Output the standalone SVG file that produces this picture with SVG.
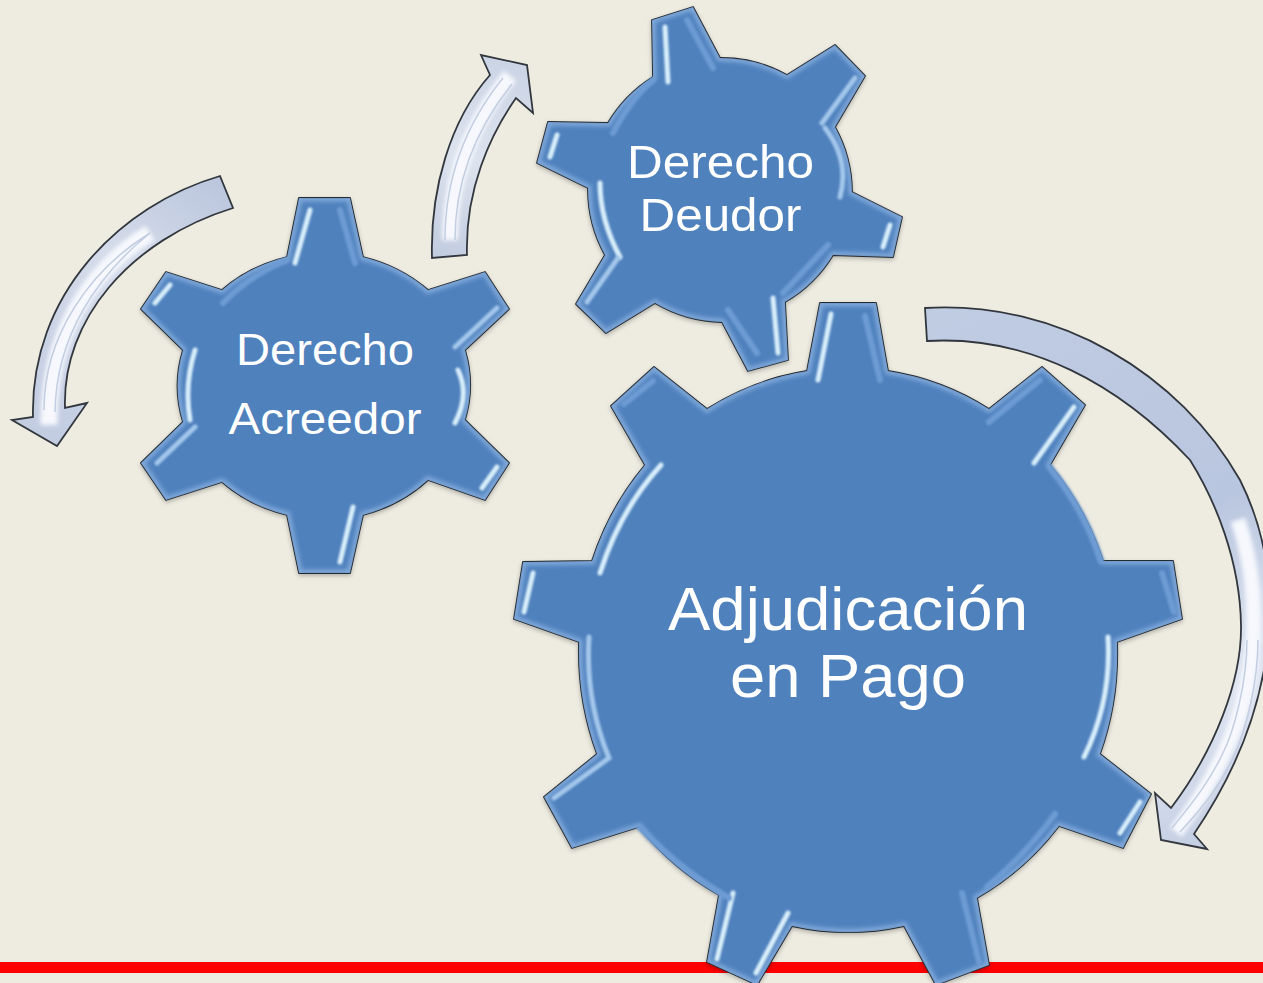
<svg xmlns="http://www.w3.org/2000/svg" width="1263" height="983" viewBox="0 0 1263 983">
<style>
.gear{fill:#4f81bd;stroke:#222a32;stroke-width:1.8;stroke-linejoin:round}
.bevel{fill:none;stroke:#7fa8da;stroke-width:7;filter:url(#soft)}
.hl{fill:none;stroke-linecap:round;filter:url(#soft1)}
.b{stroke:#d8effb;stroke-width:5}
.m{stroke:#a4c8ec;stroke-width:5}
.d{stroke:#6d9bd3;stroke-width:6}
.t{font-family:"Liberation Sans",Arial,sans-serif;fill:#fff;text-anchor:middle}
.arrow{stroke:#32373e;stroke-width:1.8;stroke-linejoin:miter}
.glow{fill:none;stroke:#f6f8fd;stroke-linecap:butt;filter:url(#soft)}
.line{fill:none;stroke:#c3cee2;stroke-width:1.5}
</style>
<defs>
<filter id="soft" x="-20%" y="-20%" width="140%" height="140%"><feGaussianBlur stdDeviation="2"/></filter>
<filter id="soft1" x="-50%" y="-50%" width="200%" height="200%"><feGaussianBlur stdDeviation="0.8"/></filter>
<filter id="shadow" x="-10%" y="-10%" width="120%" height="120%"><feDropShadow dx="0" dy="2" stdDeviation="2" flood-color="#000" flood-opacity="0.25"/></filter>
<linearGradient id="a1" gradientUnits="userSpaceOnUse" x1="225" y1="190" x2="50" y2="430"><stop offset="0" stop-color="#bcc7de"/><stop offset="0.4" stop-color="#d5dcea"/><stop offset="1" stop-color="#c3cde2"/></linearGradient>
<linearGradient id="a2" gradientUnits="userSpaceOnUse" x1="450" y1="256" x2="515" y2="70"><stop offset="0" stop-color="#c3cde0"/><stop offset="0.5" stop-color="#dde3ee"/><stop offset="1" stop-color="#ccd5e6"/></linearGradient>
<linearGradient id="a3" gradientUnits="userSpaceOnUse" x1="925" y1="325" x2="1190" y2="840"><stop offset="0" stop-color="#c0cce2"/><stop offset="0.5" stop-color="#b9c6df"/><stop offset="0.8" stop-color="#dfe5f1"/><stop offset="1" stop-color="#c6d0e4"/></linearGradient>
<path id="g1" d="M287,257 L299,198 L350,198 L363,257 A150,135 0 0 1 428,290 L485,272 L509,309 L465,350 A150,135 0 0 1 465,420 L509,463 L485,500 L428,480 A150,135 0 0 1 363,515 L350,573 L299,573 L287,515 A150,135 0 0 1 222,482 L166,500 L141,463 L183,422 A150,135 0 0 1 183,350 L141,309 L166,272 L222,290 A150,135 0 0 1 287,257 Z"/>
<path id="g2" d="M653,77 L652,20 L693,7 L720,58 A135,135 0 0 1 787,75 L835,45 L865,76 L835,127 A135,135 0 0 1 852,192 L902,217 L893,257 L833,255 A135,135 0 0 1 785,302 L788,360 L748,371 L722,322 A135,135 0 0 1 655,303 L606,333 L576,304 L605,255 A135,135 0 0 1 588,188 L537,163 L548,122 L608,123 A135,135 0 0 1 653,77 Z"/>
<path id="g3" d="M807,371 L820,303 L876,303 L888,371 A272,285 0 0 1 989,409 L1042,367 L1085,405 L1050,465 A272,285 0 0 1 1103,561 L1173,561 L1182,619 L1117,642 A272,285 0 0 1 1100,754 L1151,794 L1123,848 L1059,826 A272,285 0 0 1 977,898 L989,965 L936,985 L904,926 A272,285 0 0 1 792,926 L757,985 L707,962 L719,895 A272,285 0 0 1 639,827 L572,848 L544,797 L597,754 A272,285 0 0 1 579,642 L514,619 L523,562 L592,561 A272,285 0 0 1 645,465 L611,406 L654,367 L707,409 A272,285 0 0 1 807,371 Z"/>
<clipPath id="c1"><use href="#g1"/></clipPath>
<clipPath id="c2"><use href="#g2"/></clipPath>
<clipPath id="c3"><use href="#g3"/></clipPath>
</defs>
<rect width="1263" height="983" fill="#eeece1"/>
<rect id="bar" x="0" y="962" width="1263" height="11" fill="#ff0000"/>

<g id="connectors">
<g id="arrow-left">
<path class="arrow" fill="url(#a1)" d="M220,176 C120,205 30,295 33,417 L12,420 L57,446 L87,403 L65,408 C62,320 130,240 233,208 Z"/>
<path class="glow" stroke-width="17" d="M150,233 C90,270 48,335 49,425"/>
<path class="line" d="M150,233 C90,270 44,335 44,410M150,233 C98,275 56,335 55,412"/>
</g>
<g id="arrow-mid">
<path class="arrow" fill="url(#a2)" d="M432,258 C430,190 450,120 490,75 L481,55 L527,65 L533,113 L516,98 C490,135 465,190 467,255 Z"/>
<path class="glow" stroke-width="16" d="M450,240 C450,180 470,125 510,76"/>
<path class="line" d="M445,240 C445,180 465,125 503,78M455,240 C455,180 475,130 512,84"/>
</g>
<g id="arrow-right">
<path class="arrow" fill="url(#a3)" d="M925,308 C1060,300 1180,375 1240,480 C1285,570 1285,700 1194,834 L1207,849 L1161,840 L1155,793 L1171,808 C1215,750 1242,680 1241,625 C1240,560 1215,500 1190,460 C1120,385 1030,335 927,341 Z"/>
<path class="glow" stroke-width="15" d="M1238,520 C1258,580 1262,660 1232,735 C1220,765 1200,800 1176,832"/>
<path class="line" d="M1247,640 C1247,680 1235,730 1222,755 C1210,780 1195,800 1172,828M1258,640 C1258,680 1247,730 1232,760 C1220,785 1205,805 1180,832"/>
</g>
</g>

<g id="gear-acreedor">
<use href="#g1" class="gear" filter="url(#shadow)"/>
<g clip-path="url(#c1)"><use href="#g1" class="bevel"/></g>
<path class="hl b" d="M310,210 L295,263M170,285 L155,303M195,350 Q184,385 190,420M458,370 Q470,395 455,423M497,467 L482,488M353,507 L340,562"/>
<path class="hl m" d="M497,308 L455,347M195,427 L157,463"/>
<path class="hl d" d="M340,210 L355,263M223,303 Q250,275 287,260"/>
<text class="t" x="325" y="365" font-size="45" textLength="178" lengthAdjust="spacingAndGlyphs">Derecho</text>
<text class="t" x="325" y="434" font-size="45" textLength="193" lengthAdjust="spacingAndGlyphs">Acreedor</text>
</g>

<g id="gear-deudor">
<use href="#g2" class="gear" filter="url(#shadow)"/>
<g clip-path="url(#c2)"><use href="#g2" class="bevel"/></g>
<path class="hl b" d="M665,27 L668,82M557,135 L550,157M600,183 Q600,220 620,257M890,225 L883,247M773,298 L778,353"/>
<path class="hl m" d="M855,78 L822,123M825,128 Q850,160 840,197M618,258 L587,302"/>
<path class="hl d" d="M687,20 L713,68M828,245 L783,293M728,310 L757,353M613,133 Q630,100 653,80"/>
<text class="t" x="720.5" y="178" font-size="47" textLength="187" lengthAdjust="spacingAndGlyphs">Derecho</text>
<text class="t" x="720.5" y="231" font-size="47" textLength="162" lengthAdjust="spacingAndGlyphs">Deudor</text>
</g>

<g id="gear-adjudicacion">
<use href="#g3" class="gear" filter="url(#shadow)"/>
<g clip-path="url(#c3)"><use href="#g3" class="bevel"/></g>
<path class="hl b" d="M831,314 L818,380M1074,407 L1034,463M661,465 Q620,510 600,573M533,573 L524,612M733,893 L717,959M788,913 L756,973M1140,802 L1120,833M1108,637 Q1112,700 1084,757"/>
<path class="hl m" d="M589,637 Q585,700 609,758L554,798"/>
<path class="hl d" d="M865,316 L880,380M624,404 L653,381M989,422 L1040,380M639,827 Q680,870 729,898M962,893 L979,962M1055,814 Q1025,855 987,887M1162,573 L1174,612M1050,467 Q1085,510 1101,560"/>
<text class="t" x="848" y="630" font-size="62" textLength="360" lengthAdjust="spacingAndGlyphs">Adjudicación</text>
<text class="t" x="848" y="697" font-size="62" textLength="236" lengthAdjust="spacingAndGlyphs">en Pago</text>
</g>
</svg>
